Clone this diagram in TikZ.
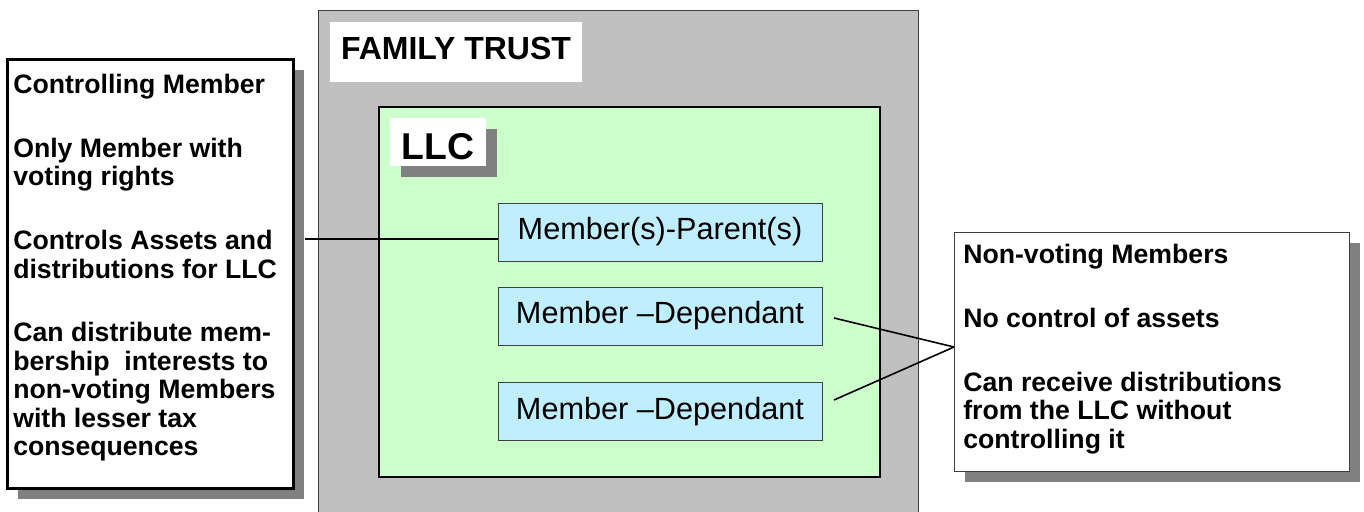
\documentclass[tikz,border=0pt]{standalone}
\usepackage{fontspec}
\setmainfont{Liberation Sans}
\definecolor{trustgray}{RGB}{192,192,192}
\definecolor{shadegray}{RGB}{128,128,128}
\definecolor{llcgreen}{RGB}{204,255,204}
\definecolor{membercyan}{RGB}{191,239,255}
\definecolor{edgegray}{RGB}{64,64,64}
\tikzset{
  notebox/.style={fill=white, inner sep=0pt},
  notetext/.style={anchor=north west, align=left, inner sep=0pt,
    font=\fontsize{20}{21.4}\selectfont\bfseries},
  memberbox/.style={draw=edgegray, line width=0.75pt, fill=membercyan,
    minimum width=243pt, minimum height=43.5pt, inner sep=0pt,
    font=\fontsize{23}{27}\selectfont},
  link/.style={line width=1.2pt},
}
\begin{document}
\begin{tikzpicture}[x=0.75pt,y=0.75pt,yscale=-1,xscale=1]
\clip (0,0) rectangle (1364,511);
%Rectangle: family trust
\node [draw=edgegray, line width=0.75pt, fill=trustgray, inner sep=0pt,
  minimum width=450pt, minimum height=382.5pt] (trust) at (618,265) {};
%Rectangle: trust label
\node [notebox, minimum width=189pt, minimum height=45pt, text depth=5pt,
  font=\fontsize{24}{28}\selectfont\bfseries] (trustlabel) at (456,52) {FAMILY TRUST};
%Rectangle: llc
\node [draw, line width=1.5pt, fill=llcgreen, inner sep=0pt,
  minimum width=375.75pt, minimum height=277.5pt] (llc) at (629.5,292) {};
%Shadow: llc label
\fill [shadegray] (401,129) rectangle (497,177);
%Rectangle: llc label
\node [notebox, minimum width=72pt, minimum height=36pt, text height=27pt,
  font=\fontsize{28}{32}\selectfont\bfseries] (llclabel) at (438,142) {LLC};
%Members
\node [memberbox] (parent) at (660,232) {Member(s)-Parent(s)};
\node [memberbox] (dep1) at (660,316) {Member –Dependant};
\node [memberbox] (dep2) at (660,411.5) {Member –Dependant};
%Shadow: controlling member
\fill [shadegray] (18,70) rectangle (304,499);
%Rectangle: controlling member
\node [notebox, draw, line width=2.25pt, minimum width=214.5pt,
  minimum height=321.75pt] (ctrl) at (150,273.5) {};
\node [notetext] (ctrltext) at (13,74) {Controlling Member\\[26.4pt]
  Only Member with\\voting rights\\[26.4pt]
  Controls Assets and\\distributions for LLC\\[26.4pt]
  Can distribute mem-\\bership\ \ interests to\\non-voting Members\\with lesser tax\\consequences};
%Shadow: non-voting members
\fill [shadegray] (965,243) rectangle (1360,482);
%Rectangle: non-voting members
\node [notebox, draw=edgegray, line width=0.75pt, minimum width=296.25pt,
  minimum height=179.25pt] (nonvote) at (1151.5,351.5) {};
\node [notetext] (nonvotetext) at (963,244) {Non-voting Members\\[26.4pt]
  No control of assets\\[26.4pt]
  Can receive distributions\\from the LLC without\\controlling it};
%Straight Lines
\coordinate (ctrlout) at (305,239);
\coordinate (dep1out) at (834,318);
\coordinate (dep2out) at (834,400);
\coordinate (meet) at (954,347);
\draw [link] (ctrlout) -- (ctrlout -| parent.west);
\draw [link] (dep1out) -- (meet);
\draw [link] (dep2out) -- (meet);
\end{tikzpicture}
\end{document}
